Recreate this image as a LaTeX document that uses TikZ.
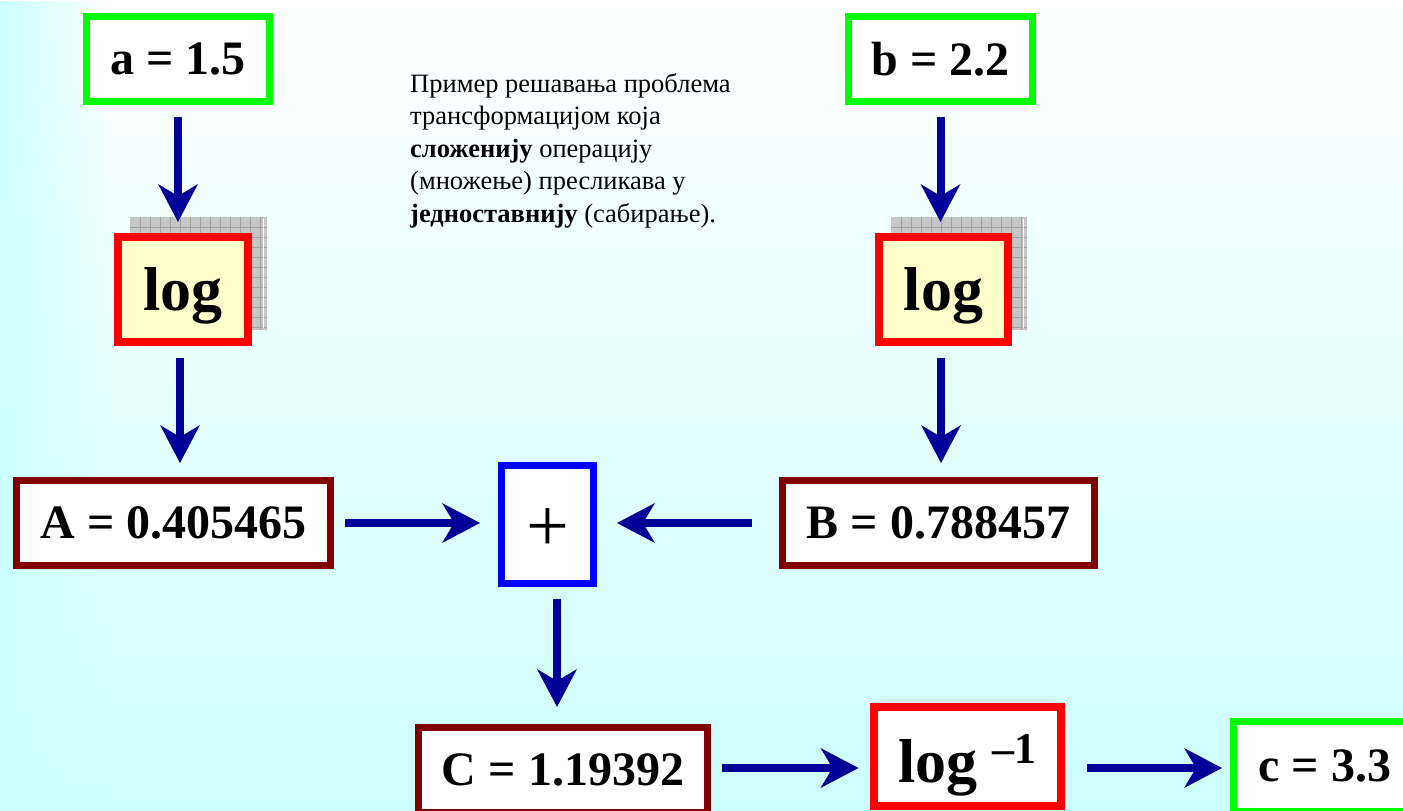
\documentclass[tikz,border=0pt]{standalone}
\usepackage{fontspec}
\setmainfont{Liberation Serif}
\usetikzlibrary{arrows.meta,fadings}
\definecolor{bgcyan}{HTML}{CCFFFF}
\definecolor{arrblue}{HTML}{000099}
\definecolor{darkred}{HTML}{800000}
\definecolor{logfill}{HTML}{FFFFCC}
\definecolor{shadowgray}{HTML}{C6C6C6}
\definecolor{gridgray}{HTML}{A2A2A2}
\tikzfading[name=fadeleft, left color=transparent!0, right color=transparent!100]
\tikzset{
  box/.style={draw, line width=7pt, fill=white, inner sep=0pt, outer sep=0pt,
    font=\fontsize{48}{48}\selectfont\bfseries},
  greenbox/.style={box, draw={rgb,255:red,0;green,255;blue,0}},
  darkbox/.style={box, draw=darkred},
  logbox/.style={box, draw=red, line width=8pt, fill=logfill,
    font=\fontsize{62}{62}\selectfont\bfseries, text height=45pt, text depth=4pt},
  plusbox/.style={box, draw=blue, font=\fontsize{76}{76}\selectfont, text height=60pt, text depth=6pt},
  arr/.style={draw=arrblue, line width=8pt,
    -{Stealth[length=38pt, width=40pt, inset=12pt, line width=0pt]}},
  gridshadow/.style={fill=shadowgray},
}
\begin{document}
\begin{tikzpicture}[x=1pt, y=-1pt]
\useasboundingbox (0,0) rectangle (1403,811);
\clip (0,0) rectangle (1403,811);
% background
\shade[top color=white, bottom color=bgcyan] (0,0) rectangle (1403,811);
\fill[bgcyan, path fading=fadeleft] (0,0) rectangle (110,811);

% shadows behind log boxes
\fill[gridshadow] (130,217) rectangle (267,330);
\foreach \gx in {140,150,...,260} \draw[gridgray, line width=0.8pt] (\gx,217) -- (\gx,330);
\foreach \gy in {227,237,...,327} \draw[gridgray, line width=0.8pt] (130,\gy) -- (267,\gy);
\draw[white, line width=1pt] (263,219) -- (263,328);
\fill[gridshadow] (891,217) rectangle (1027,330);
\foreach \gx in {901,911,...,1021} \draw[gridgray, line width=0.8pt] (\gx,217) -- (\gx,330);
\foreach \gy in {227,237,...,327} \draw[gridgray, line width=0.8pt] (891,\gy) -- (1027,\gy);
\draw[white, line width=1pt] (1023,219) -- (1023,328);

% nodes
\node[greenbox, minimum width=183pt, minimum height=85pt] (a) at (178,59) {a = 1.5};
\node[greenbox, minimum width=184pt, minimum height=85pt] (b) at (940.5,59) {b = 2.2};
\node[logbox, minimum width=130pt, minimum height=105pt] (logL) at (183,289.5) {log};
\node[logbox, minimum width=129pt, minimum height=105pt] (logR) at (943.5,289.5) {log};
\node[darkbox, minimum width=314pt, minimum height=85pt] (A) at (173.5,523) {A = 0.405465};
\node[plusbox, minimum width=92pt, minimum height=118pt] (plus) at (547.5,524) {+};
\node[darkbox, minimum width=312pt, minimum height=85pt] (B) at (938.5,523) {B = 0.788457};
\node[darkbox, minimum width=289pt, minimum height=85pt] (C) at (563,770) {C = 1.19392};
\node[box, draw=red, line width=8pt, minimum width=187pt, minimum height=99pt,
  font=\fontsize{62}{62}\selectfont\bfseries, text height=55pt, text depth=4pt] (linv) at (967.5,756.5)
  {log {\fontsize{44}{44}\selectfont\raisebox{19pt}{–1}}};
\node[greenbox, minimum width=183pt, minimum height=90pt] (c) at (1325,766) {c = 3.3};

\node[anchor=north west, inner sep=0pt, align=left,
  font=\fontsize{26.5}{32.5}\selectfont] (txt) at (410,73)
  {Пример решавања проблема\\трансформацијом која\\\textbf{сложенију} операцију\\(множење) пресликава у\\\textbf{једноставнију} (сабирање).};

% connectors
\draw[arr, shorten <=15.5pt, shorten >=15pt] (a.south) -- (a.south |- logL.north);
\draw[arr, shorten <=16pt, shorten >=17.5pt] ([xshift=-3pt]logL.south) -- ([xshift=-3pt]logL.south |- A.north);
\draw[arr, shorten <=15.5pt, shorten >=15pt] (b.south) -- (b.south |- logR.north);
\draw[arr, shorten <=16pt, shorten >=17.5pt] ([xshift=-2.5pt]logR.south) -- ([xshift=-2.5pt]logR.south |- B.north);
\draw[arr, shorten <=14.5pt, shorten >=21.5pt] (A.east) -- (A.east -| plus.west);
\draw[arr, shorten <=30.5pt, shorten >=23.5pt] (B.west) -- (B.west -| plus.east);
\draw[arr, shorten <=15.5pt, shorten >=20.5pt] ([xshift=9.5pt]plus.south) -- ([xshift=9.5pt]plus.south |- C.north);
\draw[arr, shorten <=14.5pt, shorten >=15.5pt] ([yshift=2pt]C.east) -- ([yshift=2pt]C.east -| linv.west);
\draw[arr, shorten <=25.5pt, shorten >=11.5pt] ([yshift=2pt]C.east -| linv.east) -- ([yshift=2pt]C.east -| c.west);
\end{tikzpicture}
\end{document}
